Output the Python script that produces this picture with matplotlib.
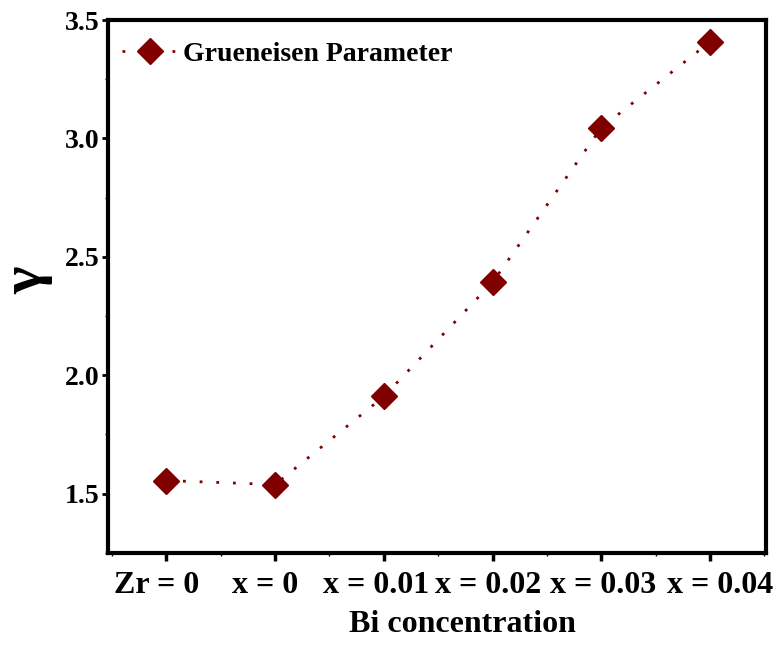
import numpy as np
import matplotlib.pyplot as plt
from matplotlib.ticker import MultipleLocator
from matplotlib.transforms import ScaledTranslation

# data
labels = ['Zr = 0', 'x = 0', 'x = 0.01', 'x = 0.02', 'x = 0.03', 'x = 0.04']
gamma = [1.555, 1.538, 1.910, 2.392, 3.045, 3.408]

plt.rcParams['font.family'] = ['Liberation Serif', 'DejaVu Serif']
plt.rcParams['font.weight'] = 'bold'

fig = plt.figure(figsize=(7.8, 6.48), dpi=100)
ax = fig.add_axes([0.138, 0.147, 0.844, 0.822])

xpos = np.arange(len(labels))
ax.plot(xpos, gamma, linestyle=(0, (1, 5)), linewidth=2, color='#800000',
        marker='D', markersize=13, markeredgecolor='#800000',
        label='Grueneisen Parameter')

ax.set_xlim(-0.54, 5.515)
ax.set_ylim(1.25, 3.5)
ax.set_xticks(xpos)
ax.set_xticklabels(labels, fontsize=23, fontweight='bold')
ax.xaxis.set_minor_locator(MultipleLocator(0.5))
ax.set_yticks([1.5, 2.0, 2.5, 3.0, 3.5])
ax.yaxis.set_minor_locator(MultipleLocator(0.25))
for t in ax.get_yticklabels():
    t.set_fontsize(20)
    t.set_fontweight('bold')

ax.tick_params(axis='x', which='major', direction='out', length=6, width=2.5, pad=7)
ax.tick_params(axis='y', which='major', direction='out', length=4, width=2, pad=2)
ax.tick_params(axis='both', which='minor', direction='out', length=2, width=1)
for s in ax.spines.values():
    s.set_linewidth(3)

# the original spreads the tick labels slightly apart
shifts = [-10, -10, -8, -4, 2, 10]
for t, dx in zip(ax.get_xticklabels(), shifts):
    t.set_transform(t.get_transform() + ScaledTranslation(dx / 100, 0, fig.dpi_scale_trans))

ax.set_xlabel('Bi concentration', fontsize=23, fontweight='bold', va='top')
ax.xaxis.set_label_coords(0.539, -0.108)

# y label as free text so it stays inside the canvas
fig.text(27 / 780, 1 - 280 / 648, 'γ', rotation=90, fontsize=42,
         fontweight='bold', ha='center', va='center')

ax.legend(loc='upper left', frameon=False, handlelength=2.0, handletextpad=0.2,
          bbox_to_anchor=(-0.008, 0.996), borderaxespad=0.3,
          prop={'weight': 'bold', 'size': 20})

fig.savefig('out.png', dpi=100)
